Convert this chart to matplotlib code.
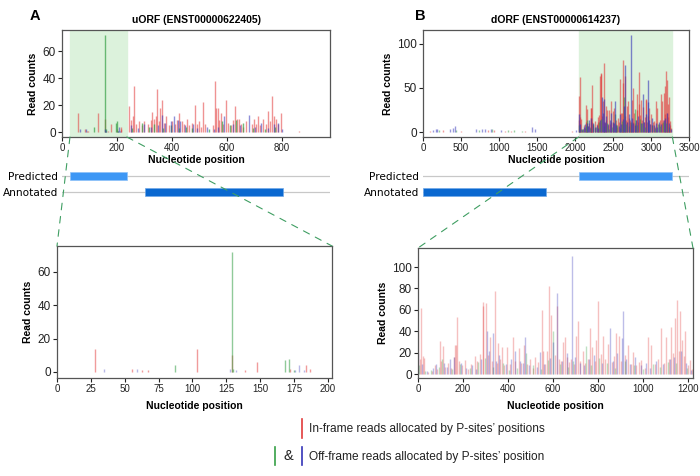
import numpy as np
import matplotlib.pyplot as plt
from matplotlib.patches import ConnectionPatch
from matplotlib.lines import Line2D

plt.rcParams['font.family'] = ['Liberation Sans', 'DejaVu Sans']

W, H = 700, 476

# ---- uORF transcript (ENST00000622405), P-site read counts per frame ----
u_f0_pos = [57, 84, 92, 96, 132, 158, 168, 177, 201, 213, 216,
            245, 250, 258, 263, 270, 280, 290, 300, 312, 322,
            327, 335, 342, 347, 352, 358, 364, 372, 380, 390,
            400, 410, 418, 427, 435, 444, 454, 462, 472, 484,
            490, 500, 506, 513, 520, 548, 557, 562, 566, 571,
            577, 585, 596, 605, 615, 622, 629, 636, 643, 652,
            660, 670, 690, 700, 706, 713, 720, 731, 741, 750,
            757, 764, 770, 778, 787, 796, 862]
u_f0_cnt = [14, 2, 1, 1, 14, 10, 1, 6, 2, 4, 2,
            19, 9, 12, 34, 6, 8, 5, 8, 6, 9,
            15, 10, 12, 32, 8, 18, 24, 7, 12, 5,
            8, 6, 9, 14, 8, 6, 10, 5, 7, 20,
            6, 8, 4, 22, 6, 5, 38, 18, 18, 9,
            14, 6, 24, 7, 5, 9, 19, 10, 10, 6,
            4, 8, 6, 10, 6, 12, 5, 10, 6, 16,
            8, 27, 12, 10, 6, 14, 1]
u_f1_pos = [116, 158, 159, 197, 200, 204, 255, 290, 318, 333, 368, 398,
            425, 452, 474, 535, 581, 610, 632, 660, 695, 738, 776]
u_f1_cnt = [4, 72, 2, 7, 8, 1, 3, 7, 4, 6, 3, 5,
            3, 4, 3, 2, 8, 5, 9, 7, 3, 2, 4]
u_f2_pos = [64, 88, 157, 161, 205, 208, 211,
            252, 276, 300, 325, 350, 362, 376, 395, 408, 422,
            431, 449, 478, 492, 528, 552, 568, 591, 622, 648,
            680, 703, 725, 748, 771, 785, 800]
u_f2_cnt = [2, 2, 2, 1, 1, 4, 1,
            5, 3, 6, 4, 5, 13, 7, 8, 12, 9,
            8, 5, 6, 3, 4, 2, 4, 12, 6, 5,
            13, 4, 7, 3, 6, 7, 2]
u_pred = (29, 236)
u_annot = (302, 804)

# ---- dORF transcript (ENST00000614237) ----
d_pred = (2047, 3281)
d_annot = (0, 1614)
# reads upstream of the dORF (transcript coordinates)
d_utr_f0_pos = [90, 260, 500, 860, 940, 1080, 1160, 1340, 1960]
d_utr_f0_cnt = [1, 2, 1, 2, 2, 1, 1, 1, 1]
d_utr_f1_pos = [210, 440, 740, 910, 1120, 1200, 1300]
d_utr_f1_cnt = [2, 2, 2, 3, 2, 2, 1]
d_utr_f2_pos = [130, 170, 190, 360, 390, 420, 700, 780, 820, 890, 1030, 1440, 1470, 2010]
d_utr_f2_cnt = [2, 4, 3, 3, 5, 7, 3, 3, 4, 4, 2, 6, 4, 2]
# reads inside the dORF (relative to its start)
d_f0_pos = [2, 8, 13, 20, 26, 44, 62, 75, 86, 98,
            104, 111, 120, 133, 146, 158, 164, 170, 175, 182,
            196, 210, 222, 236, 253, 262, 275, 287, 290, 300,
            312, 320, 328, 341, 350, 357, 365, 372, 384, 395,
            410, 424, 432, 447, 458, 470, 486, 498, 509, 521,
            535, 550, 556, 566, 572, 580, 591, 607, 616, 625,
            635, 643, 653, 662, 673, 680, 695, 704, 711, 722,
            733, 741, 756, 766, 775, 786, 793, 800, 811, 822,
            833, 844, 860, 871, 881, 893, 902, 920, 933, 945,
            956, 970, 982, 993, 1008, 1022, 1037, 1052, 1066, 1081,
            1092, 1104, 1115, 1124, 1133, 1141, 1152, 1158, 1164, 1172,
            1180, 1187, 1200, 1209, 1218]
d_f0_cnt = [41, 14, 62, 17, 15, 2, 3, 8, 5, 31,
            12, 26, 7, 10, 6, 16, 27, 27, 53, 12,
            8, 13, 5, 9, 17, 12, 19, 64, 67, 66,
            18, 35, 12, 78, 10, 29, 14, 25, 8, 25,
            9, 35, 12, 24, 10, 27, 9, 14, 6, 16,
            11, 60, 22, 9, 22, 82, 55, 18, 64, 14,
            12, 30, 35, 16, 11, 14, 9, 36, 50, 12,
            22, 10, 14, 43, 25, 12, 32, 68, 19, 36,
            14, 28, 11, 17, 38, 36, 12, 18, 27, 9,
            21, 8, 11, 13, 6, 35, 27, 9, 14, 43,
            10, 35, 14, 44, 20, 52, 69, 22, 59, 32,
            17, 40, 8, 13, 5]
d_f1_pos = [5, 30, 58, 92, 108, 150, 188, 230, 268, 296,
            334, 378, 405, 440, 478, 512, 545, 576, 601, 630,
            668, 690, 748, 770, 806, 840, 876, 918, 962, 1000,
            1044, 1074, 1110, 1146, 1195]
d_f1_cnt = [8, 3, 4, 7, 14, 5, 9, 6, 11, 15,
            7, 10, 4, 6, 20, 8, 5, 13, 40, 9,
            7, 12, 26, 8, 15, 10, 6, 12, 8, 5,
            9, 7, 11, 10, 6]
d_f2_pos = [0, 16, 40, 68, 80, 116, 128, 140, 162, 192,
            215, 242, 258, 282, 305, 316, 335, 346, 362, 390,
            415, 430, 455, 466, 477, 492, 528, 540, 560, 586,
            600, 616, 638, 660, 686, 698, 718, 736, 760, 782,
            816, 852, 866, 886, 908, 911, 926, 940, 966, 990,
            1015, 1030, 1058, 1088, 1120, 1138, 1168, 1192, 1212]
d_f2_cnt = [20, 9, 3, 6, 9, 10, 7, 14, 16, 10,
            6, 8, 5, 14, 40, 22, 38, 12, 18, 9,
            14, 22, 12, 10, 35, 8, 7, 21, 9, 15,
            30, 76, 12, 20, 110, 16, 10, 8, 14, 18,
            10, 43, 12, 20, 34, 59, 14, 9, 16, 8,
            10, 6, 12, 9, 14, 16, 22, 10, 4]

red, green, blue = '#e23b3b', '#35a045', '#3434b8'
span_col = '#dcf2dc'
dash_col = '#3f9e62'


def box(l, t, r, b):
    return [l / W, 1 - b / H, (r - l) / W, (b - t) / H]


def style(ax, xfs=7, yfs=8.5):
    for s in ax.spines.values():
        s.set_color('#555555')
        s.set_linewidth(0.9)
    ax.tick_params(axis='x', labelsize=xfs, length=3, width=0.8, pad=1.5, colors='#222222')
    ax.tick_params(axis='y', labelsize=yfs, length=3, width=0.8, pad=1.5, colors='#222222')
    ax.set_ylabel('Read counts', fontsize=7.5, fontweight='bold', labelpad=3)


def reads(ax, pos, cnt, color, alpha):
    ax.vlines(pos, 0, cnt, colors=color, linewidth=1.0, alpha=alpha)


fig = plt.figure(figsize=(7, 4.76), dpi=100)

# ---------------- top left: uORF transcript ----------------
ax1 = fig.add_axes(box(62, 30, 330, 137))
ax1.axvspan(*u_pred, color=span_col, zorder=0)
reads(ax1, u_f0_pos, u_f0_cnt, red, 0.55)
reads(ax1, u_f1_pos, u_f1_cnt, green, 0.7)
reads(ax1, u_f2_pos, u_f2_cnt, blue, 0.55)
ax1.set_xlim(0, 975)
ax1.set_ylim(-3.6, 75.6)
ax1.set_yticks([0, 20, 40, 60])
ax1.set_xticks([0, 200, 400, 600, 800])
style(ax1)
ax1.set_xlabel('Nucleotide position', fontsize=7.5, fontweight='bold', labelpad=1)
ax1.set_title('uORF (ENST00000622405)', fontsize=7.5, fontweight='bold', pad=5)

# ---------------- top right: dORF transcript ----------------
ax2 = fig.add_axes(box(423, 30, 689, 137))
ax2.axvspan(*d_pred, color=span_col, zorder=0)
reads(ax2, d_utr_f0_pos, d_utr_f0_cnt, red, 0.5)
reads(ax2, d_utr_f1_pos, d_utr_f1_cnt, green, 0.5)
reads(ax2, d_utr_f2_pos, d_utr_f2_cnt, blue, 0.5)
reads(ax2, np.array(d_f0_pos) + d_pred[0], d_f0_cnt, red, 0.6)
reads(ax2, np.array(d_f1_pos) + d_pred[0], d_f1_cnt, green, 0.6)
reads(ax2, np.array(d_f2_pos) + d_pred[0], d_f2_cnt, blue, 0.6)
ax2.set_xlim(0, 3500)
ax2.set_ylim(-5.5, 115.5)
ax2.set_xticks(np.arange(0, 3501, 500))
ax2.set_yticks([0, 50, 100])
style(ax2)
ax2.set_xlabel('Nucleotide position', fontsize=7.5, fontweight='bold', labelpad=1)
ax2.set_title('dORF (ENST00000614237)', fontsize=7.5, fontweight='bold', pad=5)

# ---------------- ORF tracks ----------------
for l, r, xlim, pred, annot in [(62, 330, (0, 975), u_pred, u_annot),
                                (423, 689, (0, 3500), d_pred, d_annot)]:
    tr = fig.add_axes(box(l, 168, r, 200))
    tr.set_xlim(*xlim)
    tr.set_ylim(1.5, -0.5)
    for row in (0, 1):
        tr.axhline(row, color='#c8c8c8', lw=0.9, zorder=0)
    tr.barh(0, pred[1] - pred[0], left=pred[0], height=0.45, color='#3d97f5',
            edgecolor='#8cc0f8', lw=0.5)
    tr.barh(1, annot[1] - annot[0], left=annot[0], height=0.45, color='#0a68d0',
            edgecolor='#70a8e8', lw=0.5)
    tr.set_yticks([0, 1])
    tr.set_yticklabels(['Predicted', 'Annotated'], family='DejaVu Sans', fontsize=7.6)
    tr.tick_params(axis='y', length=0, pad=3)
    tr.set_xticks([])
    for s in tr.spines.values():
        s.set_visible(False)
    tr.patch.set_alpha(0)

# ---------------- bottom left: uORF zoom ----------------
ax3 = fig.add_axes(box(57, 246, 332, 378))
for p, c, col, a in [(u_f0_pos, u_f0_cnt, red, 0.5),
                     (u_f1_pos, u_f1_cnt, green, 0.55),
                     (u_f2_pos, u_f2_cnt, blue, 0.35)]:
    p = np.array(p)
    c = np.array(c)
    m = (p >= u_pred[0]) & (p <= u_pred[1])
    reads(ax3, p[m] - u_pred[0], c[m], col, a)
ax3.set_xlim(0, 203)
ax3.set_ylim(-3.6, 75.6)
ax3.set_xticks(np.arange(0, 201, 25))
ax3.set_yticks([0, 20, 40, 60])
style(ax3)
ax3.set_xlabel('Nucleotide position', fontsize=7.5, fontweight='bold', labelpad=5)

# ---------------- bottom right: dORF zoom ----------------
ax4 = fig.add_axes(box(418, 248, 693, 378))
reads(ax4, d_f0_pos, d_f0_cnt, red, 0.32)
reads(ax4, d_f1_pos, d_f1_cnt, green, 0.32)
reads(ax4, d_f2_pos, d_f2_cnt, blue, 0.32)
ax4.set_xlim(0, 1222)
ax4.set_ylim(-3.7, 117.8)
ax4.set_xticks(np.arange(0, 1201, 200))
ax4.set_yticks(np.arange(0, 101, 20))
style(ax4)
ax4.set_xlabel('Nucleotide position', fontsize=7.5, fontweight='bold', labelpad=5)

# ---------------- zoom connectors ----------------
for top, zoom, (a, b) in [(ax1, ax3, u_pred), (ax2, ax4, d_pred)]:
    for xa, xb in [(a, 0), (b, 1)]:
        con = ConnectionPatch(xyA=(xa, 0), coordsA=top.get_xaxis_transform(),
                              xyB=(xb, 1), coordsB=zoom.transAxes,
                              color=dash_col, lw=0.8, linestyle=(0, (6, 6)))
        fig.add_artist(con)

# panel letters
fig.text(35 / W, 1 - 16 / H, 'A', fontsize=10.5, fontweight='bold', ha='center', va='center')
fig.text(420 / W, 1 - 16 / H, 'B', fontsize=10.5, fontweight='bold', ha='center', va='center')

# ---------------- bottom legend ----------------
def vbar(x, y0, y1, col):
    fig.add_artist(Line2D([x / W, x / W], [1 - y0 / H, 1 - y1 / H],
                          transform=fig.transFigure, color=col, lw=1.2))

vbar(302, 419, 438, red)
fig.text(309 / W, 1 - 429 / H, 'In-frame reads allocated by P-sites’ positions',
         fontsize=8.6, va='center', color='#222222')
vbar(275, 447, 465, green)
fig.text(288 / W, 1 - 456 / H, '&', fontsize=10.5, va='center', ha='center', color='#222222')
vbar(302, 447, 465, blue)
fig.text(309 / W, 1 - 457 / H, 'Off-frame reads allocated by P-sites’ position',
         fontsize=8.6, va='center', color='#222222')

fig.savefig('out.png', dpi=100)
